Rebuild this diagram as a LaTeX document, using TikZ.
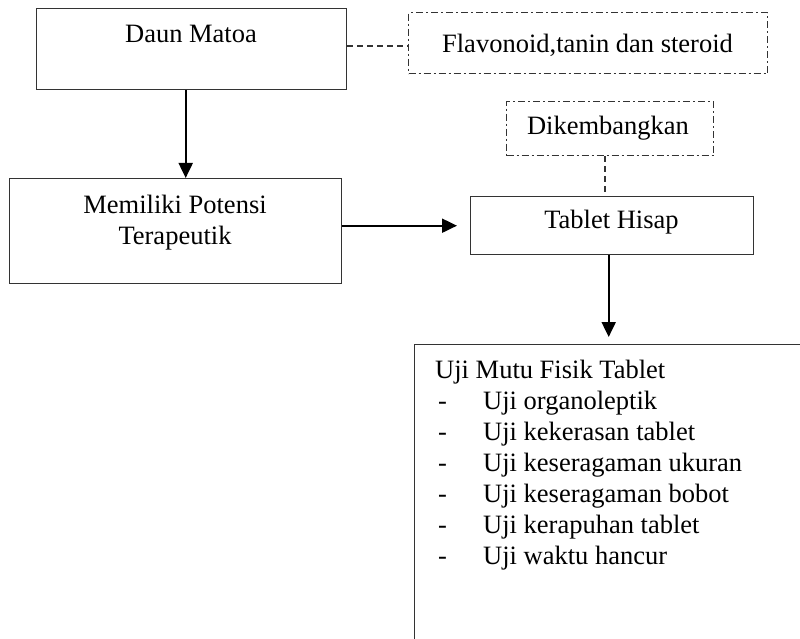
\documentclass[tikz,border=0pt]{standalone}
\usepackage{fontspec}
\setmainfont{Liberation Serif}
\usetikzlibrary{arrows.meta}
\begin{document}
\begin{tikzpicture}[x=1pt,y=1pt,
  box/.style={draw=black!80, line width=1.4pt, rectangle, inner sep=0pt, anchor=north west},
  dbox/.style={box, line width=1.2pt, dash pattern=on 7pt off 3pt on 2pt off 3pt},
  txt/.style={inner sep=0pt, anchor=base, font=\fontsize{26.5}{30}\selectfont},
  ltxt/.style={inner sep=0pt, anchor=base west, font=\fontsize{26.5}{30}\selectfont},
  arr/.style={line width=2pt, -{Triangle[length=15pt,width=14pt]}},
  dsh/.style={line width=1.4pt, draw=black!80, dash pattern=on 6pt off 4pt}]
\useasboundingbox (0,0) rectangle (800,-639);
% boxes
\node[box, minimum width=310pt, minimum height=81pt] (dm) at (36,-8) {};
\node[txt] (dmt) at (191,-43) {Daun Matoa};
\node[dbox, minimum width=359pt, minimum height=61pt] (fl) at (408,-12) {};
\node[txt] (flt) at (587.5,-53) {Flavonoid,tanin dan steroid};
\node[box, minimum width=332pt, minimum height=105pt] (mp) at (9,-178) {};
\node[txt] (mpt1) at (175,-214) {Memiliki Potensi};
\node[txt] (mpt2) at (175,-244) {Terapeutik};
\node[dbox, minimum width=207pt, minimum height=54pt] (dk) at (506,-101) {};
\node[txt] (dkt) at (608,-135) {Dikembangkan};
\node[box, minimum width=283pt, minimum height=58pt] (th) at (470,-196) {};
\node[txt] (tht) at (611.5,-228) {Tablet Hisap};
\node[box, minimum width=400pt, minimum height=310pt] (uj) at (414,-344) {};
\node[ltxt] (ujt) at (435,-378) {Uji Mutu Fisik Tablet};
\foreach \i/\t in {1/Uji organoleptik,2/Uji kekerasan tablet,3/Uji keseragaman ukuran,4/Uji keseragaman bobot,5/Uji kerapuhan tablet,6/Uji waktu hancur}{
  \node[ltxt] (ujd\i) at (438,-378-31*\i) {-};
  \node[ltxt] (uji\i) at (483,-378-31*\i) {\t};
}
% connectors
\draw[arr] ([xshift=-6pt]dm.south) -- ([xshift=-6pt]dm.south |- mp.north);
\draw[dsh] ([yshift=-3pt]dm.east |- fl.west) -- ([yshift=-3pt]fl.west);
\draw[arr, shorten >=13pt] (mp.east |- th.west) -- (th.west);
\draw[dsh] ([xshift=-5pt]dk.south) -- ([xshift=-5pt]dk.south |- th.north);
\draw[arr, shorten >=7pt] ([xshift=-3.5pt]th.south) -- ([xshift=-3.5pt]th.south |- uj.north);
\end{tikzpicture}
\end{document}
